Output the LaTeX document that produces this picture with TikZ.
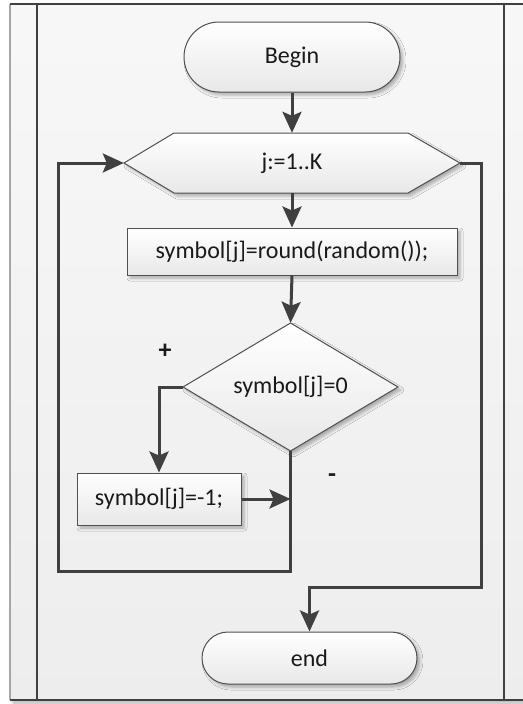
\documentclass[tikz,border=0pt]{standalone}
\usepackage{fontspec}
\setmainfont{Carlito}
\usetikzlibrary{shapes.geometric,shapes.misc,arrows.meta,shadows.blur,calc}

\definecolor{linecol}{HTML}{404040}
\definecolor{edgecol}{HTML}{505050}
\definecolor{txtcol}{HTML}{1A1A1A}

\tikzset{
  softshadow/.style={blur shadow={shadow xshift=3pt,shadow yshift=-3pt,
      shadow blur radius=3pt,shadow opacity=30}},
  shapefill/.style={draw=edgecol,line width=1pt,top color=white,bottom color=black!9,softshadow},
  lbl/.style={text=txtcol,font=\fontsize{24pt}{28pt}\selectfont},
  terminal/.style={rounded rectangle,shapefill,lbl,inner sep=0pt},
  procbox/.style={rectangle,shapefill,lbl,inner sep=0pt},
  plain/.style={rectangle,lbl,inner sep=0pt},
  sign/.style={lbl,font=\fontsize{26pt}{30pt}\selectfont\bfseries},
  flow/.style={draw=linecol,line width=3pt},
  arr/.style={flow,-{Stealth[length=21pt,width=19pt,inset=4pt]}},
}

\begin{document}
\begin{tikzpicture}[x=1pt,y=-1pt]
  \useasboundingbox (0,0) rectangle (522,704);

  % pool background with its lanes
  \fill[top color=white!97!black,bottom color=white!93!black,softshadow] (10,4) rectangle (530,700);
  \draw[draw=gray!70,line width=1.5pt] (10,4) -- (10,700);
  \draw[draw=linecol,line width=1.5pt] (10,4) -- (530,4);
  \draw[draw=linecol,line width=1.5pt] (10,700) -- (530,700);
  \draw[draw=linecol,line width=1.5pt] (37,4) -- (37,700);
  \draw[draw=linecol,line width=1.5pt] (504,4) -- (504,700);

  % loop header drawn as a hexagon
  \path[shapefill] (124,163) -- (174,133) -- (408,133) -- (460,163) -- (408,193) -- (174,193) -- cycle;
  % decision drawn as a diamond
  \path[shapefill] (183,387) -- (290.5,323) -- (398,387) -- (290.5,451) -- cycle;

  % nodes
  \node[terminal,minimum width=216pt,minimum height=70pt] (begin) at (292,57) {Begin};
  \node[plain,minimum width=336pt,minimum height=60pt] (loop) at (292,163) {j:=1..K};
  \node[procbox,minimum width=330pt,minimum height=47pt] (rand) at (292,251.5) {symbol[j]=round(random());};
  \node[plain,minimum width=215pt,minimum height=128pt] (cond) at (290.5,387) {symbol[j]=0};
  \node[procbox,minimum width=164pt,minimum height=52pt] (neg) at (159,499) {symbol[j]=-1;};
  \node[terminal,minimum width=215pt,minimum height=52pt] (finish) at (309.5,658) {end};

  \node[sign] (plus) at (165,351) {+};
  \node[sign] (minus) at (332,478) {-};

  \coordinate (back) at (58,571);
  \coordinate (exitc) at (481,587);

  % connectors
  \draw[arr] (begin.south) -- (loop.north);
  \draw[arr] (loop.south) -- (rand.north);
  \draw[arr] (rand.south) -- (cond.north);
  \draw[arr] (cond.west) -| (neg.north);
  \draw[arr,line join=miter] (cond.south) |- (back) |- (loop.west);
  \draw[arr] (neg.east) -- (neg.east -| cond.south);
  \draw[arr,line join=miter] (loop.east) -| (exitc) -| (finish.north);
\end{tikzpicture}
\end{document}
